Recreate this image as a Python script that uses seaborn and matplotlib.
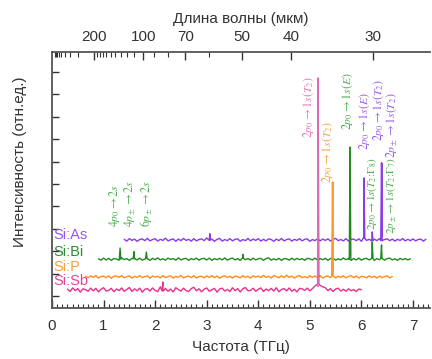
import numpy as np
import pandas as pd
import matplotlib
matplotlib.use("Agg")
import matplotlib.pyplot as plt
import seaborn as sns

# ---------------- data ----------------
samples = ["Si:As", "Si:Bi", "Si:P", "Si:Sb"]

# frequency range (THz) covered by each spectrum
as_range = (1.40, 7.25)
bi_range = (0.90, 6.95)
p_range = (0.65, 6.60)
sb_range = (0.30, 6.00)

# baseline offsets of the stacked spectra (arb. units)
baselines = {"Si:As": 2.50, "Si:Bi": 1.64, "Si:P": 0.85, "Si:Sb": 0.27}

# baseline ripple, hundredths of a unit, sampled every 0.05 THz
as_noise = [
    3, -5, 6, -2, 4, -6, 2, 5, -3, 7,
    -4, 2, 6, -5, 3, -2, 8, -4, 1, 5,
    -6, 4, -3, 7, -2, 3, -5, 6, -4, 2,
    5, -3, 9, -2, 4, -6, 3, 7, -5, 2,
    -3, 6, -4, 3, 5, -6, 2, -3, 7, -4,
    4, -2, 6, -5, 3, -4, 5, 2, -6, 4,
    -3, 7, -4, 2, 5, -5, 3, -2, 6, -4,
    3, 5, -6, 2, -3, 6, -4, 4, -2, 5,
    -5, 3, 7, -3, 2, -4, 6, -5, 3, 4,
    -3, 5, -6, 8, -2, 3, -5, 4, -3, 6,
    -4, 2, 5, -3, 4, -5, 3, -2, 6, -4,
    3, -3, 5, -4, 2, 4, -5, 3,
]
bi_noise = [
    2, -4, 5, -3, 4, -5, 3, 1, -4, 6,
    -2, 3, -5, 4, 2, -3, 5, -4, 1, 3,
    -5, 4, -2, 6, -3, 2, -4, 5, -1, 3,
    -4, 6, -3, 2, 4, -5, 3, -2, 5, -4,
    2, 4, -3, 5, -5, 3, -2, 4, -3, 6,
    -4, 2, 5, -3, 3, -5, 4, -2, 3, -4,
    5, -3, 2, 4, -5, 3, 6, -4, 2, -3,
    4, -5, 3, 2, -4, 5, -3, 4, -2, 3,
    -5, 4, 2, -3, 5, -4, 3, -2, 4, -5,
    3, 5, -4, 2, -3, 6, -2, 4, -5, 3,
    -3, 5, -4, 2, 4, -3, 5, -5, 3, -2,
    4, -4, 3, 5, -3, 2, -5, 4, -2, 3,
    -3, 2,
]
p_noise = [
    3, -4, 5, -2, 6, -5, 2, 4, -3, 5,
    -6, 3, 4, -2, 6, -4, 1, 5, -5, 3,
    -2, 6, -3, 2, 5, -6, 4, -1, 3, -4,
    6, -3, 2, 5, -5, 3, -2, 7, -4, 1,
    4, -3, 6, -5, 2, 3, -4, 5, -2, 6,
    -3, 4, -6, 2, 5, -2, 3, -5, 4, 1,
    -4, 6, -2, 3, -5, 5, -1, 4, -3, 7,
    -2, 3, -5, 6, 2, -4, 5, -3, 8, -2,
    4, -5, 3, 6, -3, 2, -4, 5, -2, 4,
    -3, 6, -5, 2, 4, -3, 5, -4, 3, -2,
    5, -4, 2, 6, -3, 4, -5, 3, 1, -4,
    5, -2, 3, -5, 4, -3, 2, 5, -4, 2,
]
sb_noise = [
    4, -7, 9, -3, 6, -10, 5, 1, -6, 8,
    -4, 7, -9, 3, 10, -5, -2, 7, -8, 4,
    -3, 9, -6, 2, 11, -7, 5, -4, 8, -10,
    3, 6, -5, 9, -2, -8, 14, -4, 7, -6,
    4, -9, 10, 2, -5, 8, -3, -7, 6, 12,
    -4, 5, -8, 3, 9, -6, 1, 7, -10, 4,
    8, -5, 2, -7, 10, -3, 6, -9, 5, 11,
    -4, -2, 8, -6, 3, 9, -7, 4, -3, 7,
    -5, 10, -8, 2, 6, -4, 9, -6, 3, -9,
    7, 5, -2, 8, -4, 6, 18, 26, 20, 14,
    10, -3, 6, -7, 4, 8, -5, 3, -6, 5,
    -4, 2, -7, 4, 1,
]

# absorption lines: position (THz) and peak top (arb. units)
as_peak_f = [3.06, 6.05, 6.21, 6.39]
as_peak_top = [2.78, 5.27, 2.86, 5.95]
bi_peak_f = [1.32, 1.59, 1.83, 3.70, 5.78, 6.21, 6.39]
bi_peak_top = [2.14, 1.98, 1.96, 1.86, 6.65, 2.41, 2.28]
p_peak_f = [5.44]
p_peak_top = [5.09]
sb_peak_f = [2.15, 5.16]
sb_peak_top = [0.62, 9.73]

# line assignments: text, position (THz), lower end of text (arb. units), size
line_labels = [
    (r"$2p_0\rightarrow1s(T_2)$", 4.98, 7.05, "Si:Sb", 8.5),
    (r"$2p_0\rightarrow1s(T_2)$", 5.35, 5.04, "Si:P", 8.5),
    (r"$2p_0\rightarrow1s(E)$", 5.74, 7.41, "Si:Bi", 8.5),
    (r"$2p_0\rightarrow1s(E)$", 6.06, 6.52, "Si:As", 8.5),
    (r"$2p_0\rightarrow1s(T_2\!:\!\Gamma_8)$", 6.21, 2.95, "Si:Bi", 8),
    (r"$2p_0\rightarrow1s(T_2)$", 6.33, 6.90, "Si:As", 8.5),
    (r"$2p_\pm\rightarrow1s(T_2)$", 6.59, 6.17, "Si:As", 8.5),
    (r"$2p_\pm\rightarrow1s(T_2\!:\!\Gamma_7)$", 6.59, 2.78, "Si:Bi", 8),
    (r"$4p_0\rightarrow2s$", 1.22, 3.08, "Si:Bi", 8.5),
    (r"$4p_\pm\rightarrow2s$", 1.52, 3.08, "Si:Bi", 8.5),
    (r"$6p_\pm\rightarrow2s$", 1.83, 3.08, "Si:Bi", 8.5),
]

# sample name labels: vertical position (arb. units)
name_y = {"Si:As": 2.72, "Si:Bi": 1.96, "Si:P": 1.29, "Si:Sb": 0.67}

# wavelength scale on the top axis
wl_major = [200, 100, 70, 50, 40, 30]
wl_minor = [1000, 900, 800, 700, 600, 500, 400, 300,
            190, 180, 170, 160, 150, 140, 130, 120, 110, 90, 80, 60]

# ---------------- styling ----------------
line_colors = {"Si:As": "#8a3ae6", "Si:Bi": "#1f8a1f", "Si:P": "#ff8c1a", "Si:Sb": "#e8308a"}
peak_colors = {"Si:As": "#8a3ae6", "Si:Bi": "#1f8a1f", "Si:P": "#ff9a2e", "Si:Sb": "#e070b8"}
name_colors = {"Si:As": "#9a55ee", "Si:Bi": "#2e8b2e", "Si:P": "#f7a040", "Si:Sb": "#e0449a"}
note_colors = {"Si:As": "#9a5de8", "Si:Bi": "#4fae4f", "Si:P": "#f5a445", "Si:Sb": "#e27ab8"}
ink = "#333333"

sns.set_style("ticks")
plt.rcParams["font.family"] = ["Liberation Sans", "DejaVu Sans"]
plt.rcParams["mathtext.fontset"] = "stix"


def build_spectrum(name, rng, noise, peak_f, peak_top):
    freq = np.linspace(rng[0], rng[1], len(noise))
    sig = baselines[name] + np.asarray(noise) / 100.0
    xs, ys = list(freq), list(sig)
    for f, top in zip(peak_f, peak_top):
        b = np.interp(f, freq, sig)
        xs += [f - 0.015, f, f + 0.015]
        ys += [b, top, b]
    df = pd.DataFrame({"freq": xs, "signal": ys}).sort_values("freq")
    df["sample"] = name
    return df


peaks = {"Si:As": (as_peak_f, as_peak_top), "Si:Bi": (bi_peak_f, bi_peak_top),
         "Si:P": (p_peak_f, p_peak_top), "Si:Sb": (sb_peak_f, sb_peak_top)}
ranges = {"Si:As": as_range, "Si:Bi": bi_range, "Si:P": p_range, "Si:Sb": sb_range}
noises = {"Si:As": as_noise, "Si:Bi": bi_noise, "Si:P": p_noise, "Si:Sb": sb_noise}
spectra = {n: build_spectrum(n, ranges[n], noises[n], *peaks[n]) for n in samples}

fig = plt.figure(figsize=(4.32, 3.59), dpi=100)
ax = fig.add_axes([52 / 432, 1 - 308 / 359, 378 / 432, 256 / 359])

for name in samples:
    sns.lineplot(data=spectra[name], x="freq", y="signal", ax=ax, color=line_colors[name],
                 lw=1.0, estimator=None, sort=False, legend=False)
    # strong lines drawn again in their own tint
    for f, top in zip(*peaks[name]):
        if top - baselines[name] > 2:
            b = baselines[name]
            ax.plot([f, f], [b + 0.15, top], color=peak_colors[name], lw=1.3,
                    solid_capstyle="butt")

for name in samples:
    ax.text(0.03, name_y[name], name, color=name_colors[name], fontsize=10.5,
            ha="left", va="center")

for text, f, y0, name, size in line_labels:
    ax.text(f, y0, text, rotation=90, ha="center", va="bottom", fontsize=size,
            color=note_colors[name])

ax.set_xlim(0, 7.33)
ax.set_ylim(-0.536, 10.89)
ax.set_xticks(range(0, 8))
ax.set_xticks(np.arange(0, 7.35, 0.1), minor=True)
ax.set_yticks(range(0, 11))
ax.set_yticklabels([])
ax.tick_params(axis="x", which="major", direction="in", length=6, width=1, colors=ink,
               labelsize=11, pad=8)
ax.tick_params(axis="x", which="minor", direction="in", length=3, width=0.8, colors=ink)
ax.tick_params(axis="y", which="major", direction="in", length=5, width=1, colors=ink)
for side in ("top", "right"):
    ax.spines[side].set_visible(False)
for side in ("left", "bottom"):
    ax.spines[side].set_color("#555555")
    ax.spines[side].set_linewidth(1.3)

ax.set_xlabel("Частота (ТГц)", fontsize=11, color=ink, labelpad=5)
ax.set_ylabel("Интенсивность (отн.ед.)", fontsize=11, color=ink)
ax.yaxis.set_label_coords(-0.065, 0.57)


def f_to_wl(f):
    f = np.asarray(f, dtype=float)
    with np.errstate(divide="ignore", invalid="ignore"):
        return 190.7 / np.where(np.abs(f + 0.136) < 1e-9, 1e-9, f + 0.136)


def wl_to_f(w):
    w = np.asarray(w, dtype=float)
    with np.errstate(divide="ignore", invalid="ignore"):
        return 190.7 / np.where(np.abs(w) < 1e-9, 1e-9, w) - 0.136


sec = ax.secondary_xaxis("top", functions=(f_to_wl, wl_to_f))
sec.set_xticks(wl_major)
sec.set_xticklabels([str(v) for v in wl_major])
sec.set_xticks(wl_minor, minor=True)
sec.tick_params(axis="x", which="major", direction="in", length=6, width=1, colors=ink,
                labelsize=11, pad=6)
sec.tick_params(axis="x", which="minor", direction="in", length=3.5, width=0.8, colors=ink)
sec.spines["top"].set_color("#555555")
sec.spines["top"].set_linewidth(1.3)
sec.set_xlabel("Длина волны (мкм)", fontsize=11, color=ink, labelpad=5)

fig.savefig("out.png", dpi=100)
